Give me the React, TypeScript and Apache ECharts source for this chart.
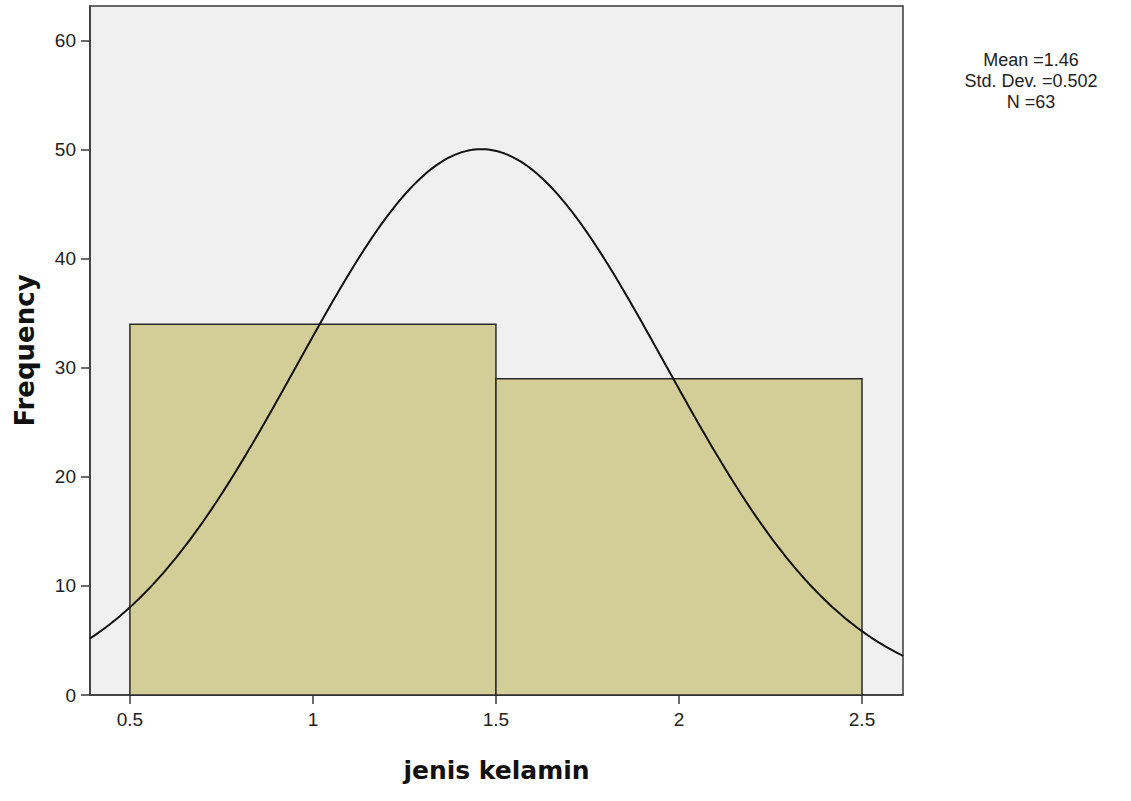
import React, { useEffect, useRef } from "react";
import * as echarts from "echarts";

const binStarts = [0.5, 1.5];
const binEnds = [1.5, 2.5];
const frequencies = [34, 29];
const xTicks = [0.5, 1, 1.5, 2, 2.5];
const yTicks = [0, 10, 20, 30, 40, 50, 60];
const statsMean = 1.46;
const statsStdDev = 0.502;
const statsN = 63;
const statsLines = ["Mean =1.46", "Std. Dev. =0.502", "N =63"];
const xMin = 0.391;
const xMax = 2.612;
const yMax = 63.2;

export default function App() {
  const ref = useRef<HTMLDivElement>(null);
  useEffect(() => {
    if (!ref.current) return;
    const chart = echarts.init(ref.current, null, { renderer: "svg" });
    const binWidth = binEnds[0] - binStarts[0];
    const curve: number[][] = [];
    const steps = 300;
    for (let i = 0; i <= steps; i++) {
      const x = xMin + ((xMax - xMin) * i) / steps;
      const z = (x - statsMean) / statsStdDev;
      const y = (statsN * binWidth) / (statsStdDev * Math.sqrt(2 * Math.PI)) * Math.exp(-0.5 * z * z);
      curve.push([x, y]);
    }
    const bins = binStarts.map((s, i) => [s, binEnds[i], frequencies[i]]);
    const font = "'Liberation Sans', Arial, sans-serif";
    const boldFont = "'DejaVu Sans', sans-serif";
    chart.setOption({
      animation: false,
      grid: {
        left: 90,
        top: 6,
        width: 813,
        height: 689,
        show: true,
        backgroundColor: "#f0f0f0",
        borderColor: "#3a3a3a",
        borderWidth: 1.5,
      },
      xAxis: {
        type: "value",
        min: xMin,
        max: xMax,
        name: "jenis kelamin",
        nameLocation: "middle",
        nameGap: 63,
        nameTextStyle: { fontSize: 25, fontWeight: "bold", color: "#111", fontFamily: boldFont },
        splitLine: { show: false },
        axisLine: { show: true, lineStyle: { color: "#3a3a3a", width: 1.5 } },
        axisTick: { show: true, customValues: xTicks, length: 9, lineStyle: { color: "#3a3a3a", width: 1.5 } },
        axisLabel: {
          customValues: xTicks,
          formatter: (v: number) => String(v),
          fontSize: 19,
          color: "#222",
          fontFamily: font,
          margin: 15,
        },
      },
      yAxis: {
        type: "value",
        min: 0,
        max: yMax,
        name: "Frequency",
        nameLocation: "middle",
        nameGap: 52,
        nameRotate: 90,
        nameTextStyle: { fontSize: 26, fontWeight: "bold", color: "#111", fontFamily: boldFont },
        splitLine: { show: false },
        axisLine: { show: true, lineStyle: { color: "#3a3a3a", width: 1.5 } },
        axisTick: { show: true, customValues: yTicks, length: 9, lineStyle: { color: "#3a3a3a", width: 1.5 } },
        axisLabel: {
          customValues: yTicks,
          fontSize: 19,
          color: "#222",
          fontFamily: font,
          margin: 14,
        },
      },
      series: [
        {
          type: "custom",
          data: bins,
          renderItem: (params: any, api: any) => {
            const p0 = api.coord([api.value(0), api.value(2)]);
            const p1 = api.coord([api.value(1), 0]);
            return {
              type: "rect",
              shape: { x: p0[0], y: p0[1], width: p1[0] - p0[0], height: p1[1] - p0[1] },
              style: { fill: "#d3ce97", stroke: "#2a2a2a", lineWidth: 1.5 },
            };
          },
          z: 2,
        },
        {
          type: "line",
          data: curve,
          showSymbol: false,
          smooth: false,
          lineStyle: { color: "#111", width: 2 },
          z: 3,
        },
      ],
      graphic: statsLines.map((t, i) => ({
        type: "text",
        x: 1031,
        y: 51 + i * 21,
        style: {
          text: t,
          fontSize: 18,
          fontFamily: font,
          fill: "#222",
          textAlign: "center",
        },
      })),
    });
    return () => chart.dispose();
  }, []);
  return (
    <div
      ref={ref}
      style={{ position: "fixed", left: 0, top: 0, width: 1131, height: 801, background: "#fff" }}
    />
  );
}
